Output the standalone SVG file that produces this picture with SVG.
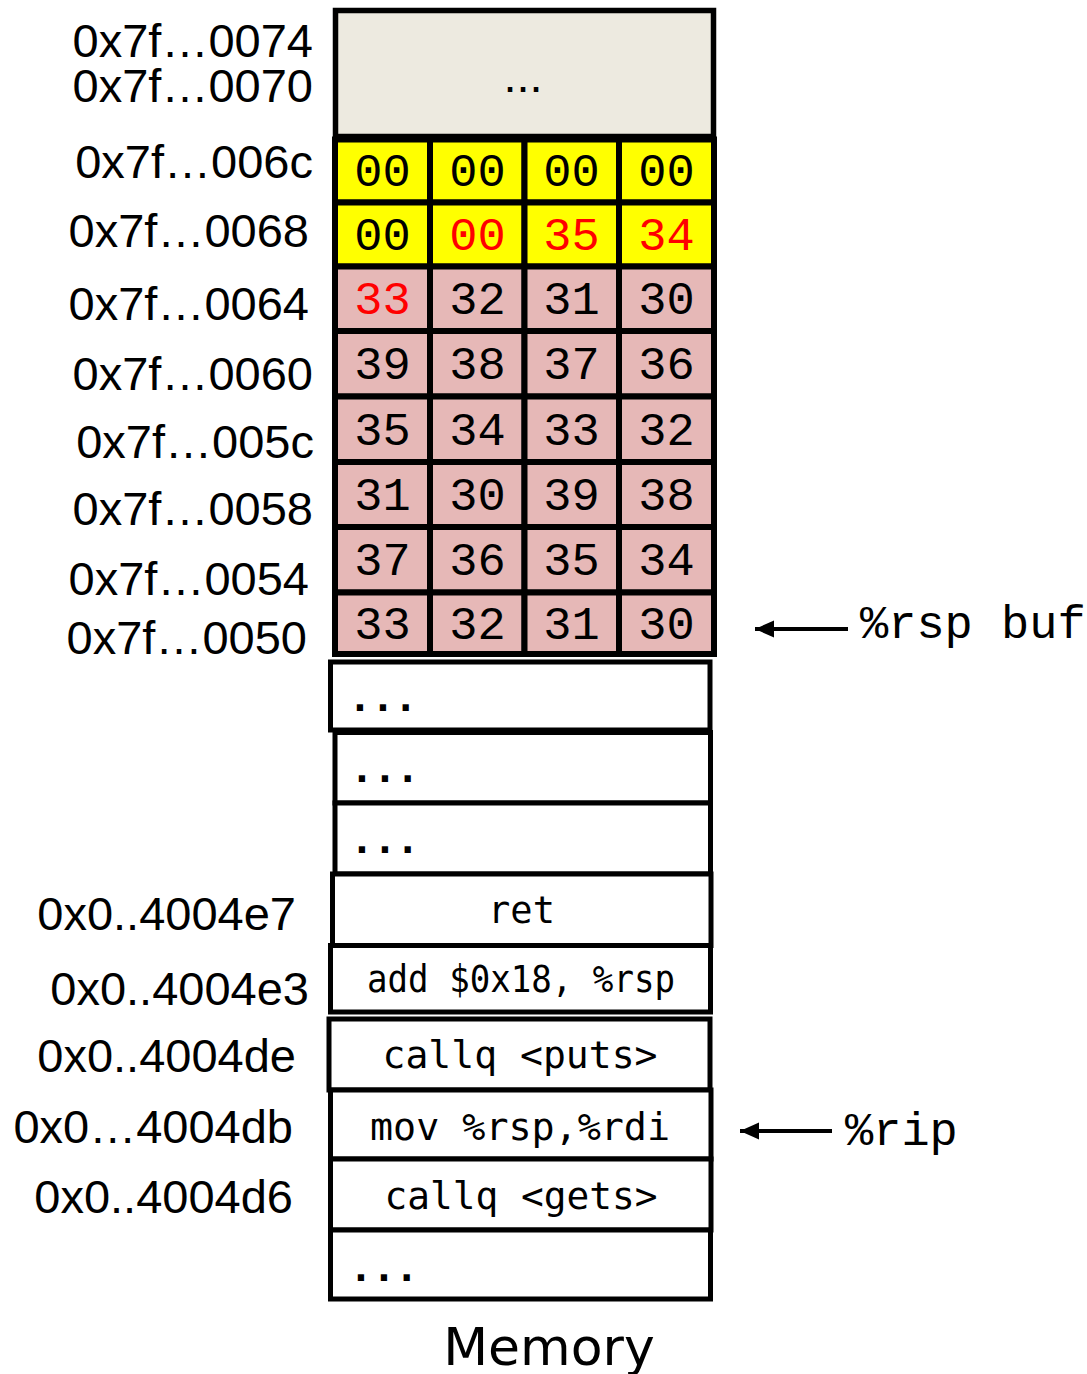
<svg xmlns="http://www.w3.org/2000/svg" width="1087" height="1374" viewBox="0 0 1087 1374">
  <style>
    .addr { font-family: "Liberation Sans", Arial, sans-serif; font-size: 47px; fill: #000; text-anchor: end; }
    .cell { stroke: #000; stroke-width: 6; }
    .y { fill: #FFFF00; }
    .p { fill: #E6B8B7; }
    .byte { font-family: "Liberation Mono", "Courier New", monospace; font-size: 47px; fill: #000; text-anchor: middle; }
    .red { fill: #FF0000; }
    .box { fill: #fff; stroke: #000; stroke-width: 5; }
    .ins { font-family: "DejaVu Sans Mono", monospace; font-size: 37px; fill: #000; text-anchor: middle; }
    .dots { font-family: "DejaVu Sans Mono", monospace; font-weight: bold; font-size: 38px; fill: #000; }
    .reg { font-family: "Liberation Mono", "Courier New", monospace; font-size: 47px; fill: #000; }
    .conn { stroke: #000; stroke-width: 4; fill: none; }
  </style>
  <defs>
    <marker id="head" markerUnits="userSpaceOnUse" markerWidth="20" markerHeight="18" refX="19" refY="9" orient="auto">
      <polygon points="0,0.5 19,9 0,17.5" fill="#000"/>
    </marker>
  </defs>

  <!-- stack: upper region -->
  <g id="stack-top">
    <rect x="335.5" y="10.5" width="378" height="126" fill="#EDEAE0" stroke="#000" stroke-width="5.5"/>
    <text x="523" y="92" font-family="Liberation Sans, Arial, sans-serif" font-size="47" text-anchor="middle">...</text>
  </g>

  <!-- stack words, 4 bytes per row -->
  <g id="row-006c">
    <rect class="cell y" x="335" y="139.5" width="95" height="63"/>
    <rect class="cell y" x="430" y="139.5" width="94.5" height="63"/>
    <rect class="cell y" x="524.5" y="139.5" width="94.5" height="63"/>
    <rect class="cell y" x="619" y="139.5" width="95" height="63"/>
    <text class="byte" x="382.5" y="185.5">00</text>
    <text class="byte" x="477.5" y="185.5">00</text>
    <text class="byte" x="571.5" y="185.5">00</text>
    <text class="byte" x="666.5" y="185.5">00</text>
  </g>
  <g id="row-0068">
    <rect class="cell y" x="335" y="202.5" width="95" height="64"/>
    <rect class="cell y" x="430" y="202.5" width="94.5" height="64"/>
    <rect class="cell y" x="524.5" y="202.5" width="94.5" height="64"/>
    <rect class="cell y" x="619" y="202.5" width="95" height="64"/>
    <text class="byte" x="382.5" y="249.5">00</text>
    <text class="byte red" x="477.5" y="249.5">00</text>
    <text class="byte red" x="571.5" y="249.5">35</text>
    <text class="byte red" x="666.5" y="249.5">34</text>
  </g>
  <g id="row-0064">
    <rect class="cell p" x="335" y="266.5" width="95" height="64.5"/>
    <rect class="cell p" x="430" y="266.5" width="94.5" height="64.5"/>
    <rect class="cell p" x="524.5" y="266.5" width="94.5" height="64.5"/>
    <rect class="cell p" x="619" y="266.5" width="95" height="64.5"/>
    <text class="byte red" x="382.5" y="313.5">33</text>
    <text class="byte" x="477.5" y="313.5">32</text>
    <text class="byte" x="571.5" y="313.5">31</text>
    <text class="byte" x="666.5" y="313.5">30</text>
  </g>
  <g id="row-0060">
    <rect class="cell p" x="335" y="331" width="95" height="65.5"/>
    <rect class="cell p" x="430" y="331" width="94.5" height="65.5"/>
    <rect class="cell p" x="524.5" y="331" width="94.5" height="65.5"/>
    <rect class="cell p" x="619" y="331" width="95" height="65.5"/>
    <text class="byte" x="382.5" y="378.5">39</text>
    <text class="byte" x="477.5" y="378.5">38</text>
    <text class="byte" x="571.5" y="378.5">37</text>
    <text class="byte" x="666.5" y="378.5">36</text>
  </g>
  <g id="row-005c">
    <rect class="cell p" x="335" y="396.5" width="95" height="65.5"/>
    <rect class="cell p" x="430" y="396.5" width="94.5" height="65.5"/>
    <rect class="cell p" x="524.5" y="396.5" width="94.5" height="65.5"/>
    <rect class="cell p" x="619" y="396.5" width="95" height="65.5"/>
    <text class="byte" x="382.5" y="444.5">35</text>
    <text class="byte" x="477.5" y="444.5">34</text>
    <text class="byte" x="571.5" y="444.5">33</text>
    <text class="byte" x="666.5" y="444.5">32</text>
  </g>
  <g id="row-0058">
    <rect class="cell p" x="335" y="462" width="95" height="65"/>
    <rect class="cell p" x="430" y="462" width="94.5" height="65"/>
    <rect class="cell p" x="524.5" y="462" width="94.5" height="65"/>
    <rect class="cell p" x="619" y="462" width="95" height="65"/>
    <text class="byte" x="382.5" y="509.5">31</text>
    <text class="byte" x="477.5" y="509.5">30</text>
    <text class="byte" x="571.5" y="509.5">39</text>
    <text class="byte" x="666.5" y="509.5">38</text>
  </g>
  <g id="row-0054">
    <rect class="cell p" x="335" y="527" width="95" height="65.5"/>
    <rect class="cell p" x="430" y="527" width="94.5" height="65.5"/>
    <rect class="cell p" x="524.5" y="527" width="94.5" height="65.5"/>
    <rect class="cell p" x="619" y="527" width="95" height="65.5"/>
    <text class="byte" x="382.5" y="575">37</text>
    <text class="byte" x="477.5" y="575">36</text>
    <text class="byte" x="571.5" y="575">35</text>
    <text class="byte" x="666.5" y="575">34</text>
  </g>
  <g id="row-0050">
    <rect class="cell p" x="335" y="592.5" width="95" height="61.5"/>
    <rect class="cell p" x="430" y="592.5" width="94.5" height="61.5"/>
    <rect class="cell p" x="524.5" y="592.5" width="94.5" height="61.5"/>
    <rect class="cell p" x="619" y="592.5" width="95" height="61.5"/>
    <text class="byte" x="382.5" y="638.5">33</text>
    <text class="byte" x="477.5" y="638.5">32</text>
    <text class="byte" x="571.5" y="638.5">31</text>
    <text class="byte" x="666.5" y="638.5">30</text>
  </g>

  <!-- lower memory / code -->
  <g id="gap-1">
    <rect class="box" x="330.5" y="662" width="379.5" height="68"/>
    <text class="dots" x="348.5" y="711">...</text>
  </g>
  <g id="gap-2">
    <rect class="box" x="335" y="732.5" width="375.5" height="70.5"/>
    <text class="dots" x="350.5" y="782">...</text>
  </g>
  <g id="gap-3">
    <rect class="box" x="335" y="803" width="375.5" height="71"/>
    <text class="dots" x="350.5" y="853">...</text>
  </g>
  <g id="ins-ret">
    <rect class="box" x="332.5" y="874" width="378.5" height="71.5"/>
    <text class="ins" x="521.5" y="923">ret</text>
  </g>
  <g id="ins-add">
    <rect class="box" x="330.5" y="945.5" width="380" height="66.5"/>
    <text class="ins" x="521" y="992" font-size="34" textLength="308" lengthAdjust="spacingAndGlyphs">add $0x18, %rsp</text>
  </g>
  <g id="ins-puts">
    <rect class="box" x="329" y="1019" width="381" height="71"/>
    <text class="ins" x="520" y="1068" textLength="275" lengthAdjust="spacingAndGlyphs">callq &lt;puts&gt;</text>
  </g>
  <g id="ins-mov">
    <rect class="box" x="330.5" y="1090" width="380.5" height="69"/>
    <text class="ins" x="520" y="1140" textLength="300" lengthAdjust="spacingAndGlyphs">mov %rsp,%rdi</text>
  </g>
  <g id="ins-gets">
    <rect class="box" x="330.5" y="1159" width="380.5" height="71"/>
    <text class="ins" x="521" y="1209" textLength="273" lengthAdjust="spacingAndGlyphs">callq &lt;gets&gt;</text>
  </g>
  <g id="gap-4">
    <rect class="box" x="330.5" y="1230" width="380" height="69"/>
    <text class="dots" x="349.5" y="1281">...</text>
  </g>

  <!-- address labels -->
  <g id="addresses">
    <text class="addr" x="313" y="57">0x7f…0074</text>
    <text class="addr" x="313" y="102">0x7f…0070</text>
    <text class="addr" x="313" y="178">0x7f…006c</text>
    <text class="addr" x="309" y="247">0x7f…0068</text>
    <text class="addr" x="309" y="320">0x7f…0064</text>
    <text class="addr" x="313" y="390">0x7f…0060</text>
    <text class="addr" x="314" y="458">0x7f…005c</text>
    <text class="addr" x="313" y="525">0x7f…0058</text>
    <text class="addr" x="309" y="595">0x7f…0054</text>
    <text class="addr" x="307" y="654">0x7f…0050</text>
    <text class="addr" x="296" y="930">0x0..4004e7</text>
    <text class="addr" x="309" y="1005">0x0..4004e3</text>
    <text class="addr" x="296" y="1072">0x0..4004de</text>
    <text class="addr" x="293" y="1143">0x0…4004db</text>
    <text class="addr" x="293" y="1213">0x0..4004d6</text>
  </g>

  <!-- register pointers -->
  <g id="connectors">
    <line class="conn" x1="848" y1="629" x2="755" y2="629" marker-end="url(#head)"/>
    <line class="conn" x1="832" y1="1131" x2="740" y2="1131" marker-end="url(#head)"/>
  </g>
  <g id="reg-rsp">
    <text class="reg" x="860" y="638">%rsp buf</text>
  </g>
  <g id="reg-rip">
    <text class="reg" x="845" y="1145">%rip</text>
  </g>

  <g id="caption">
    <text x="549" y="1365" font-family="DejaVu Sans, Verdana, sans-serif" font-size="52" text-anchor="middle">Memory</text>
  </g>
</svg>
